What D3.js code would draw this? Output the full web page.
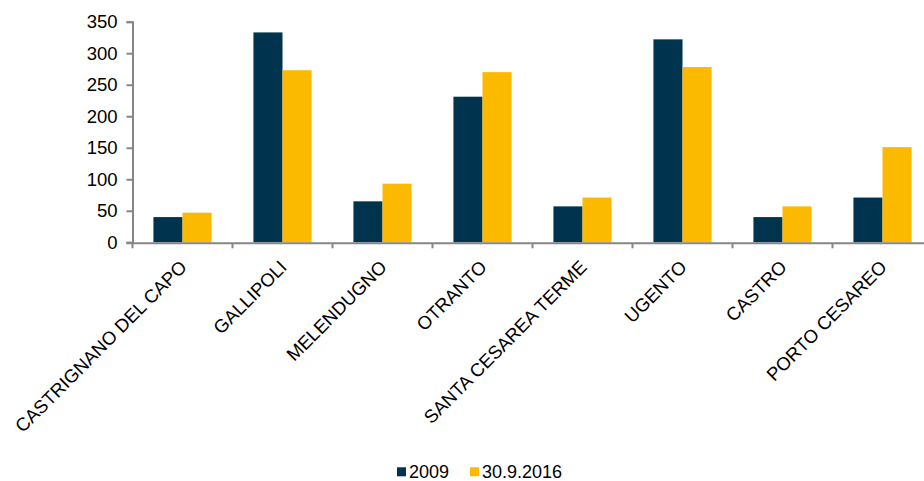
<!DOCTYPE html>
<html><head><meta charset="utf-8">
<script src="https://cdn.jsdelivr.net/npm/d3@7"></script>
<style>body{margin:0;background:#fff}svg{display:block}</style>
</head><body><svg id="c" width="924" height="481"></svg>
<script>
const categories = ["CASTRIGNANO DEL CAPO","GALLIPOLI","MELENDUGNO","OTRANTO","SANTA CESAREA TERME","UGENTO","CASTRO","PORTO CESAREO"];
const seriesNames = ["2009","30.9.2016"];
const values2009 = [40, 333, 65, 231, 57, 322, 40, 71];
const values2016 = [47, 273, 93, 270, 71, 278, 57, 151];
const yTicks = [0,50,100,150,200,250,300,350];
const colors = ["#00334E","#FBBA00"];

(function(){
const svg = d3.select("#c");
const font = "Liberation Sans, Arial, sans-serif";
const mLeft = 132.5, mRight = 932.5, mTop = 21.7, mBottom = 242.3;
const x = d3.scaleBand().domain(categories).range([mLeft, mRight]).paddingInner(0).paddingOuter(0);
const y = d3.scaleLinear().domain([0,350]).range([mBottom, mTop]);
const x1 = d3.scaleBand().domain(seriesNames).range([0, x.bandwidth()]).paddingInner(0).paddingOuter(0.72);

const data = categories.map((c,i)=>({c, vals:[values2009[i], values2016[i]]}));
const g = svg.append("g");
g.selectAll("g.grp").data(data).join("g").attr("class","grp")
  .attr("transform", d=>`translate(${x(d.c)},0)`)
  .selectAll("rect").data(d=>d.vals.map((v,j)=>({v,s:seriesNames[j],j})))
  .join("rect")
  .attr("x", d=>x1(d.s)).attr("width", x1.bandwidth())
  .attr("y", d=>y(d.v)).attr("height", d=>y(0)-y(d.v))
  .attr("fill", d=>colors[d.j]);

const ya = svg.append("g").attr("transform",`translate(${mLeft},0)`)
  .call(d3.axisLeft(y).tickValues(yTicks).tickSize(6).tickPadding(9));
ya.select(".domain").attr("stroke","#868686").attr("stroke-width",2);
ya.selectAll(".tick line").attr("stroke","#868686").attr("stroke-width",2);
ya.selectAll("text").attr("font-family",font).attr("font-size",18.5).attr("fill","#000");

svg.append("line").attr("x1",mLeft-6).attr("x2",924).attr("y1",mBottom+1).attr("y2",mBottom+1)
  .attr("stroke","#868686").attr("stroke-width",2);
svg.selectAll("line.xt").data(categories).join("line").attr("class","xt")
  .attr("x1",d=>x(d)).attr("x2",d=>x(d)).attr("y1",mBottom+1).attr("y2",mBottom+6)
  .attr("stroke","#868686").attr("stroke-width",2);
svg.selectAll("text.xl").data(categories).join("text").attr("class","xl")
  .attr("transform",d=>`translate(${x(d)+x.bandwidth()/2+5.5},${mBottom+26}) rotate(-45)`)
  .attr("text-anchor","end")
  .attr("font-family",font).attr("font-size",18.5).attr("fill","#000").text(d=>d);

const lg = svg.append("g");
const items = [{n:seriesNames[0],c:colors[0],x:397},{n:seriesNames[1],c:colors[1],x:470}];
items.forEach(it=>{
  lg.append("rect").attr("x",it.x).attr("y",467.3).attr("width",9).attr("height",9).attr("fill",it.c);
  lg.append("text").attr("x",it.x+12).attr("y",477.5).attr("font-family",font).attr("font-size",18).attr("fill","#000").text(it.n);
});
})();
</script></body></html>
